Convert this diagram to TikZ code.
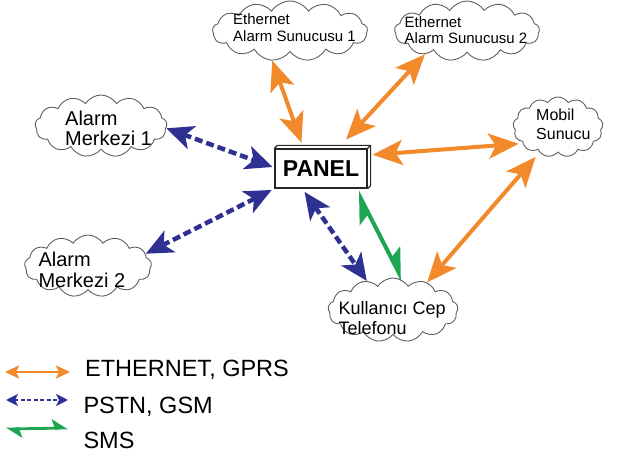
\documentclass[tikz,border=0pt]{standalone}
\usepackage{fontspec}
\setmainfont{Liberation Sans}
\usetikzlibrary{shapes.symbols,arrows.meta,calc}
\definecolor{eorange}{HTML}{F28A2C}
\definecolor{pblue}{HTML}{2E3192}
\definecolor{sgreen}{HTML}{1DA553}
\definecolor{cloudgray}{HTML}{606060}
\begin{document}
\begin{tikzpicture}[x=1pt,y=-1pt,
  cloudbox/.style={cloud, cloud puffs=13, cloud puff arc=115, cloud ignores aspect,
    draw=cloudgray, line width=0.9pt, fill=white, inner sep=0pt},
  lbl/.style={anchor=north west, align=left, inner sep=0pt},
  eth/.style={draw=eorange, line width=4pt,
    {Stealth[length=30pt,width=25pt,inset=7pt]}-{Stealth[length=30pt,width=25pt,inset=7pt]}},
  pstn/.style={draw=pblue, line width=4.5pt, dash pattern=on 8pt off 4pt,
    {Stealth[length=27pt,width=24pt,inset=7pt]}-{Stealth[length=27pt,width=24pt,inset=7pt]}},
  sms/.style={draw=sgreen, line width=4pt,
    {Stealth[harpoon,length=27pt,width=26pt,inset=6pt]}-{Stealth[harpoon,length=27pt,width=26pt,inset=6pt]}},
  legeth/.style={draw=eorange, line width=2.8pt,
    {Stealth[length=14pt,width=13pt,inset=3pt]}-{Stealth[length=14pt,width=13pt,inset=3pt]}},
  legpstn/.style={draw=pblue, line width=2.6pt, dash pattern=on 4pt off 2.5pt,
    {Stealth[length=12pt,width=12pt,inset=3pt]}-{Stealth[length=12pt,width=12pt,inset=3pt]}},
  legsms/.style={draw=sgreen, line width=2.8pt,
    {Stealth[harpoon,length=14pt,width=18pt,inset=3pt]}-{Stealth[harpoon,length=14pt,width=18pt,inset=3pt]}},
  panelbox/.style={draw=black!85, line width=1.2pt, fill=white, minimum width=92pt,
    minimum height=39pt, inner sep=0pt, font=\fontsize{23}{23}\selectfont\bfseries}
]
\useasboundingbox (0,0) rectangle (618,457);

% clouds
\node[cloudbox, minimum width=155pt, minimum height=60pt] (c1) at (290,31) {};
\node[cloudbox, minimum width=145pt, minimum height=60pt] (c2) at (467,31) {};
\node[cloudbox, minimum width=132pt, minimum height=62pt] (am1) at (101,126) {};
\node[cloudbox, minimum width=127pt, minimum height=62pt] (am2) at (88,266) {};
\node[cloudbox, minimum width=90pt, minimum height=60pt] (mob) at (558,127) {};
\node[cloudbox, minimum width=130pt, minimum height=64pt] (tel) at (393,310) {};

% cloud labels
\node[lbl, font=\fontsize{15}{16.5}\selectfont] (c1t) at (233,13.5) {Ethernet\\Alarm Sunucusu 1};
\node[lbl, font=\fontsize{15}{16}\selectfont] (c2t) at (404.5,16.5) {Ethernet\\Alarm Sunucusu 2};
\node[lbl, font=\fontsize{20}{20}\selectfont] (am1t) at (65,110.7) {Alarm\\Merkezi 1};
\node[lbl, font=\fontsize{20}{21}\selectfont] (am2t) at (38.3,251.7) {Alarm\\Merkezi 2};
\node[lbl, font=\fontsize{16}{19.5}\selectfont] (mobt) at (536,108.3) {Mobil\\Sunucu};
\node[lbl, font=\fontsize{18}{20}\selectfont] (telt) at (338.3,301.7) {Kullanıcı Cep\\Telefonu};

% panel
\node[panelbox] (panel) at (321,168.5) {PANEL};
\draw[draw=black!85, line width=1.2pt, line join=round]
  (panel.north west) -- ++(3,-3) -- ($(panel.north east)+(3,-3)$)
  -- ($(panel.south east)+(3,-3)$) -- (panel.south east);
\draw[draw=black!85, line width=1.2pt] (panel.north east) -- ++(3,-3);

% connectors
\draw[eth, shorten >=6pt] (c1.239) -- (panel.131);
\draw[eth, shorten >=12pt] (c2.209) -- (panel.50);
\draw[eth, shorten <=5pt, shorten >=4pt] (panel.16) -- (mob.205);
\draw[eth, shorten <=6pt] (mob.234) -- (tel.39);
\draw[pstn, shorten >=2pt] (am1.358) -- (panel.179);
\draw[pstn, shorten >=3pt] (am2.12) -- (panel.south west);
\draw[pstn, shorten <=4pt] (panel.227) -- (tel.132);
\draw[sms, shorten <=3pt] (panel.330) -- (tel.72);

% legend
\coordinate (l1a) at (5,372);
\coordinate (l1b) at (70,372);
\coordinate (l2a) at (6,400);
\coordinate (l2b) at (68,400);
\coordinate (l3a) at (6,429);
\coordinate (l3b) at (68,428);
\draw[legeth] (l1a) -- (l1b);
\draw[legpstn] (l2a) -- (l2b);
\draw[legsms] (l3a) -- (l3b);
\node[lbl, font=\fontsize{23.5}{24}\selectfont] (lg1) at (85,360) {ETHERNET, GPRS};
\node[lbl, font=\fontsize{23.5}{24}\selectfont] (lg2) at (83.3,396.7) {PSTN, GSM};
\node[lbl, font=\fontsize{23.5}{24}\selectfont] (lg3) at (83.3,431.7) {SMS};
\end{tikzpicture}
\end{document}
